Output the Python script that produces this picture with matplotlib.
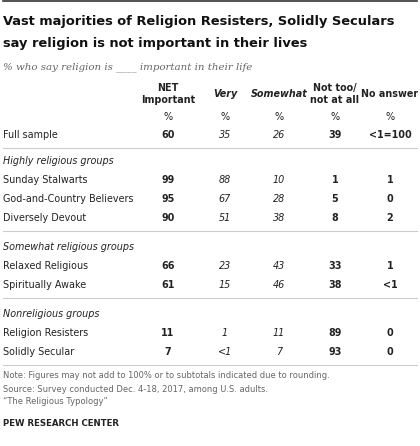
import matplotlib.pyplot as plt
from matplotlib.lines import Line2D

W, H = 420, 446

columns = ["NET\nImportant", "Very", "Somewhat", "Not too/\nnot at all", "No answer"]
col_x = [168, 225, 279, 335, 390]
col_bold = [True, False, False, True, True]
col_italic = [False, True, True, False, False]

full_sample = ["60", "35", "26", "39", "<1=100"]

groups = ["Highly religious groups", "Somewhat religious groups", "Nonreligious groups"]
group_rows = [
    [("Sunday Stalwarts", ["99", "88", "10", "1", "1"]),
     ("God-and-Country Believers", ["95", "67", "28", "5", "0"]),
     ("Diversely Devout", ["90", "51", "38", "8", "2"])],
    [("Relaxed Religious", ["66", "23", "43", "33", "1"]),
     ("Spiritually Awake", ["61", "15", "46", "38", "<1"])],
    [("Religion Resisters", ["11", "1", "11", "89", "0"]),
     ("Solidly Secular", ["7", "<1", "7", "93", "0"])],
]

fig = plt.figure(figsize=(W / 100, H / 100), dpi=100)
fig.patch.set_facecolor("white")


def txt(x, y, s, **kw):
    kw.setdefault("fontsize", 6.9)
    kw.setdefault("color", "#222222")
    kw.setdefault("va", "center")
    fig.text(x / W, 1 - y / H, s, **kw)


def hline(y, color="#cccccc", lw=0.8):
    fig.add_artist(Line2D([3 / W, 417 / W], [1 - y / H, 1 - y / H], color=color, lw=lw))


hline(1, color="#333333", lw=1.2)
txt(3, 22, "Vast majorities of Religion Resisters, Solidly Seculars", fontsize=9.4, weight="bold", color="#111111")
txt(3, 44, "say religion is not important in their lives", fontsize=9.4, weight="bold", color="#111111")
txt(3, 67, "% who say religion is ____ important in their life", fontsize=7.4, style="italic",
    color="#666666", family="DejaVu Serif")

for x, name, b, it in zip(col_x, columns, col_bold, col_italic):
    txt(x, 94, name, ha="center", weight="bold", style="italic" if it else "normal",
        linespacing=1.3)
    txt(x, 117, "%", ha="center")


def row(y, label, vals):
    txt(3, y, label)
    for x, v, b, it in zip(col_x, vals, col_bold, col_italic):
        txt(x, y, v, ha="center", weight="bold" if b else "normal",
            style="italic" if it else "normal")


row(135, "Full sample", full_sample)
hline(148)
y = 161
for g, rows in zip(groups, group_rows):
    txt(3, y, g, style="italic")
    y += 19
    for label, vals in rows:
        row(y, label, vals)
        y += 19
    hline(y - 6)
    y += 10

txt(3, 376, "Note: Figures may not add to 100% or to subtotals indicated due to rounding.", fontsize=6.0, color="#666666")
txt(3, 389, "Source: Survey conducted Dec. 4-18, 2017, among U.S. adults.", fontsize=6.0, color="#666666")
txt(3, 402, "\u201cThe Religious Typology\u201d", fontsize=6.0, color="#666666")
txt(3, 423, "PEW RESEARCH CENTER", fontsize=6.2, weight="bold", color="#222222")

fig.savefig("out.png", dpi=100, facecolor="white")
